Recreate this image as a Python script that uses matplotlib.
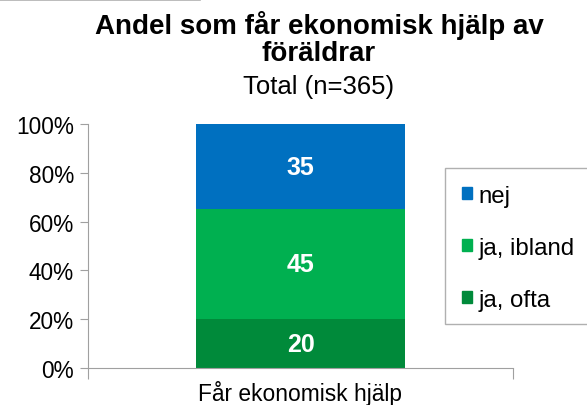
import matplotlib
matplotlib.use("Agg")
import matplotlib.pyplot as plt
from matplotlib.patches import Patch, Rectangle
from matplotlib.lines import Line2D

plt.rcParams['font.family'] = ['Liberation Sans', 'DejaVu Sans']

categories = ["Får ekonomisk hjälp"]
series_names = ["ja, ofta", "ja, ibland", "nej"]
series_values = [[20], [45], [35]]
colors = ["#008A3A", "#00B050", "#0070C0"]
yticks = [0, 20, 40, 60, 80, 100]
ytick_labels = ["0%", "20%", "40%", "60%", "80%", "100%"]

W, H = 587, 406
fig = plt.figure(figsize=(W/100, H/100), dpi=100)
ax = fig.add_axes([88/W, 1-369/H, (513-88)/W, (369-125)/H])

x = list(range(len(categories)))
bottom = [0]*len(categories)
for name, vals, col in zip(series_names, series_values, colors):
    ax.bar(x, vals, width=0.49, bottom=bottom, color=col, label=name)
    for xi, v, b in zip(x, vals, bottom):
        ax.text(xi, b + v/2, f"{v}", ha="center", va="center", color="white",
                fontsize=18, fontweight="bold")
    bottom = [b + v for b, v in zip(bottom, vals)]

ax.set_xlim(-0.5, len(categories)-0.5)
ax.set_ylim(0, 100)
ax.set_yticks(yticks)
ax.set_yticklabels(ytick_labels, fontsize=16.3)
ax.set_xticks([-0.5, 0.5])
ax.set_xticklabels([])
ax.set_xticks(x, minor=True)
ax.set_xticklabels(categories, minor=True, fontsize=16.4)
ax.tick_params(axis='x', which='minor', length=0, pad=9)
ax.tick_params(axis='x', which='major', length=8, color="#a0a0a0")
ax.tick_params(axis='y', length=6, color="#a0a0a0", pad=4)
for s in ["top", "right"]:
    ax.spines[s].set_visible(False)
for s in ["left", "bottom"]:
    ax.spines[s].set_color("#a0a0a0")

cx = 319/W
fig.text(cx, 1-25/H, "Andel som får ekonomisk hjälp av", ha="center", va="center",
         fontsize=20, fontweight="bold")
fig.text(cx, 1-54/H, "föräldrar", ha="center", va="center",
         fontsize=20, fontweight="bold")
fig.text(cx, 1-87/H, "Total (n=365)", ha="center", va="center", fontsize=18.5)

# thin grey border fragment at top-left
fig.add_artist(Line2D([0, 200/W], [1-0.5/H, 1-0.5/H], color="#b0b0b0", lw=1.2))

# legend box (extends past right edge)
fig.add_artist(Rectangle((445/W, 1-325/H), (610-445)/W, (325-169)/H, transform=fig.transFigure,
                         facecolor="white", edgecolor="#b0b0b0", lw=1.0, clip_on=False))

handles = [Patch(color=c, label=n) for n, c in zip(series_names, colors)][::-1]
leg = fig.legend(handles=handles, loc="upper left", bbox_to_anchor=(445/W, 1-169/H),
                 fontsize=17.3, frameon=False,
                 handlelength=0.42, handleheight=0.42, handletextpad=0.3,
                 labelspacing=1.25, borderpad=0.69, borderaxespad=0)

fig.savefig("out.png", dpi=100)
